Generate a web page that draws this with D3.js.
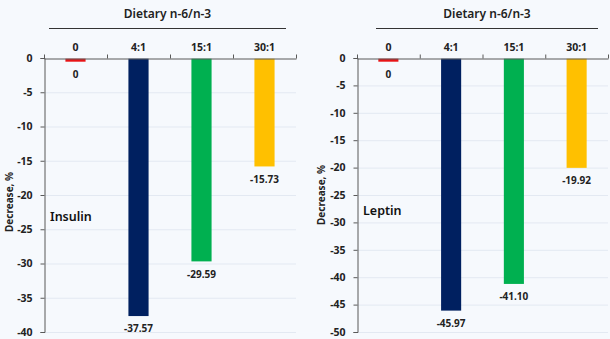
<!DOCTYPE html>
<html>
<head>
<meta charset="utf-8">
<script src="https://cdn.jsdelivr.net/npm/d3@7"></script>
<style>
  html, body { margin: 0; padding: 0; background: #f6f9fd; }
  svg { display: block; font-family: "Noto Sans", "Open Sans", sans-serif; }
</style>
</head>
<body>
<script>
var ratios = ["0", "4:1", "15:1", "30:1"];
var barColors = ["#e81416", "#002060", "#00b050", "#ffc000"];
var insulin = [0, -37.57, -29.59, -15.73];
var insulinLabels = ["0", "-37.57", "-29.59", "-15.73"];
var leptin = [0, -45.97, -41.10, -19.92];
var leptinLabels = ["0", "-45.97", "-41.10", "-19.92"];
var insulinTicks = [0, -5, -10, -15, -20, -25, -30, -35, -40];
var leptinTicks = [0, -5, -10, -15, -20, -25, -30, -35, -40, -45, -50];

var svg = d3.select("body").append("svg")
    .attr("width", 610)
    .attr("height", 339);

function drawPanel(p) {
    var g = svg.append("g");

    var x = d3.scaleBand()
        .domain(ratios)
        .range([p.left, p.right])
        .paddingInner(0.68)
        .paddingOuter(0.34);

    var y = d3.scaleLinear()
        .domain([0, p.min])
        .range([58, 332]);

    // gridlines
    g.append("g").selectAll("line")
        .data(p.ticks.slice(1))
        .enter()
        .append("line")
        .attr("x1", p.left)
        .attr("x2", p.right)
        .attr("y1", function(d){ return y(d) + 0.5; })
        .attr("y2", function(d){ return y(d) + 0.5; })
        .attr("stroke", "#e3e9f2")
        .attr("stroke-width", 1);

    // bars
    g.append("g").selectAll("rect")
        .data(p.values)
        .enter()
        .append("rect")
        .attr("x", function(d,i){ return x(ratios[i]); })
        .attr("y", y(0) + 0.7)
        .attr("width", x.bandwidth())
        .attr("height", function(d){ return Math.max(y(d) - y(0), 3); })
        .attr("fill", function(d,i){ return barColors[i]; });

    // value labels
    g.append("g").selectAll("text")
        .data(p.values)
        .enter()
        .append("text")
        .attr("x", function(d,i){ return x(ratios[i]) + x.bandwidth()/2; })
        .attr("y", function(d){ return Math.max(y(d), y(0) + 3) + 17; })
        .attr("text-anchor", "middle")
        .attr("font-size", 10)
        .attr("font-weight", "bold")
        .attr("fill", "#222")
        .text(function(d,i){ return p.labels[i]; });

    // y axis
    var yAxis = d3.axisLeft(y)
        .tickValues(p.ticks)
        .tickSize(4)
        .tickFormat(function(d){ return String(d); });
    var ya = g.append("g")
        .attr("transform", "translate(" + (p.left + 0.5) + ",0)")
        .call(yAxis);
    ya.select(".domain").attr("stroke", "#595959");
    ya.selectAll(".tick line").attr("stroke", "#595959");
    ya.selectAll(".tick text")
        .attr("x", -12)
        .attr("font-size", 10.5)
        .attr("font-weight", "bold")
        .attr("font-family", "Noto Sans, sans-serif")
        .attr("fill", "#222");

    // top category axis along zero
    var xAxis = d3.axisTop(x)
        .tickSize(0)
        .tickPadding(8);
    var xa = g.append("g")
        .attr("transform", "translate(0," + (y(0) + 0.5) + ")")
        .call(xAxis);
    xa.select(".domain").attr("stroke", "#595959");
    xa.selectAll(".tick text")
        .attr("font-size", 10.5)
        .attr("font-weight", "bold")
        .attr("font-family", "Noto Sans, sans-serif")
        .attr("fill", "#222");
    // boundary ticks between categories
    var step = x.step();
    xa.append("g").selectAll("line")
        .data(d3.range(ratios.length + 1))
        .enter()
        .append("line")
        .attr("x1", function(i){ return p.left + i * step + 0.5; })
        .attr("x2", function(i){ return p.left + i * step + 0.5; })
        .attr("y1", -4)
        .attr("y2", 0)
        .attr("stroke", "#595959");

    // header
    g.append("text")
        .attr("x", (p.lineL + p.lineR) / 2)
        .attr("y", 18)
        .attr("text-anchor", "middle")
        .attr("font-size", 12)
        .attr("font-weight", 600)
        .attr("fill", "#222")
        .text("Dietary n-6/n-3");
    g.append("line")
        .attr("x1", p.lineL)
        .attr("x2", p.lineR)
        .attr("y1", 28.5)
        .attr("y2", 28.5)
        .attr("stroke", "#333")
        .attr("stroke-width", 1);

    // y label
    g.append("text")
        .attr("transform", "translate(" + p.yLabelX + "," + p.yLabelY + ") rotate(-90)")
        .attr("text-anchor", "middle")
        .attr("font-size", 10)
        .attr("font-weight", "bold")
        .attr("fill", "#222")
        .text("Decrease, %");

    // panel name
    g.append("text")
        .attr("x", p.left + 6)
        .attr("y", p.nameY)
        .attr("font-size", 12.5)
        .attr("font-weight", 600)
        .attr("fill", "#111")
        .text(p.name);
}

drawPanel({
    left: 44, right: 296, min: -40, ticks: insulinTicks,
    values: insulin, labels: insulinLabels,
    lineL: 49, lineR: 286, yLabelX: 13, yLabelY: 202,
    name: "Insulin", nameY: 221
});

drawPanel({
    left: 357, right: 608, min: -50, ticks: leptinTicks,
    values: leptin, labels: leptinLabels,
    lineL: 376, lineR: 598, yLabelX: 325, yLabelY: 195,
    name: "Leptin", nameY: 215
});
</script>
</body>
</html>
